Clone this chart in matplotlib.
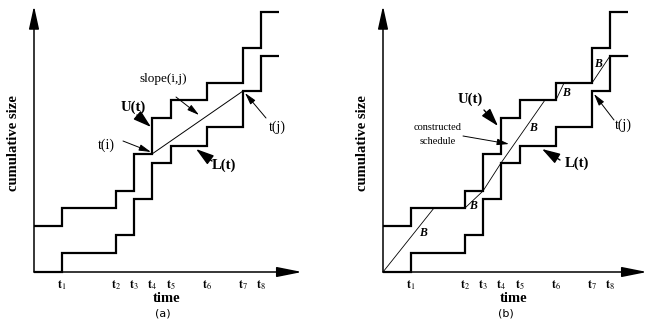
import matplotlib
matplotlib.use("Agg")
import matplotlib.pyplot as plt

plt.rcParams['font.family'] = ['Liberation Serif', 'DejaVu Serif']
plt.rcParams['mathtext.fontset'] = 'stix'

# ---- data (pixel-like units measured from the axis origin) ----
tick_names = ['1', '2', '3', '4', '5', '6', '7', '8']
t_pos = [28, 82, 100, 118, 137, 173, 209, 227]
t_end = 245
upper_levels = [46, 64, 81, 118, 154, 172, 189, 224, 260]
lower_levels = [0, 19, 37, 73, 109, 126, 145, 181, 216]
# panel (a) slope line: from t(i) to t(j)
slope_x = [118, 209]
slope_y = [118, 181]
# panel (b) constructed schedule
sched_x = [0, 51, 82, 100, 118, 162, 173, 181, 209, 227, 245]
sched_y = [0, 64, 64, 81, 109, 172, 172, 189, 189, 216, 216]

W, H = 647, 325
fig = plt.figure(figsize=(W / 100, H / 100), dpi=100)


def make_axes(px_left, px_right, ox, oy):
    ax = fig.add_axes([px_left / W, 0, (px_right - px_left) / W, 1])
    ax.set_xlim(px_left - ox, px_right - ox)
    ax.set_ylim(oy - H, oy)
    ax.axis('off')
    return ax


def P(ax_origin, px, py):
    ox, oy = ax_origin
    return (px - ox, oy - py)


def draw_common(ax, org, xarrow_end, label_x):
    edges = [0] + t_pos + [t_end]
    ax.stairs(upper_levels, edges, baseline=None, color='k', lw=1.6)
    ax.stairs(lower_levels, edges, baseline=None, color='k', lw=1.6)
    # axes arrows
    ax.annotate('', xy=(0, 266), xytext=(0, 0),
                arrowprops=dict(arrowstyle='-|>,head_length=1.0,head_width=0.22',
                                color='k', lw=1.1, mutation_scale=14,
                                shrinkA=0, shrinkB=0))
    ax.annotate('', xy=(xarrow_end, 0), xytext=(0, 0),
                arrowprops=dict(arrowstyle='-|>,head_length=1.1,head_width=0.22',
                                color='k', lw=1.1, mutation_scale=14,
                                shrinkA=0, shrinkB=0))
    for name, x in zip(tick_names, t_pos):
        ax.text(x, -13, r'$\mathbf{t}_{%s}$' % name, ha='center', va='center',
                fontsize=8.5)
    ax.text(label_x, -27, 'time', ha='center', va='center', fontsize=10.5,
            fontweight='bold')
    ax.text(-20, 129, 'cumulative size', ha='center', va='center',
            rotation=90, fontsize=10.5, fontweight='bold')


def thick_arrow(ax, xy, xytext):
    ax.annotate('', xy=xy, xytext=xytext,
                arrowprops=dict(arrowstyle='-|>,head_length=0.85,head_width=0.26',
                                color='k', lw=1.0, mutation_scale=13,
                                shrinkA=0, shrinkB=0))


def thin_arrow(ax, xy, xytext):
    ax.annotate('', xy=xy, xytext=xytext,
                arrowprops=dict(arrowstyle='-|>,head_length=0.6,head_width=0.16',
                                color='k', lw=0.7, mutation_scale=12,
                                shrinkA=0, shrinkB=0))


# ---------------- panel (a) ----------------
oa = (34, 272)
axa = make_axes(0, 323, *oa)
draw_common(axa, oa, 268, 167 - 34)
axa.plot(slope_x, slope_y, color='k', lw=0.7)
axa.text(*P(oa, 163, 79), 'slope(i,j)', ha='center', va='center', fontsize=9.5)
thin_arrow(axa, P(oa, 199, 115), P(oa, 176, 97))
axa.text(*P(oa, 133, 107), 'U(t)', ha='center', va='center', fontsize=10.5,
         fontweight='bold')
thick_arrow(axa, P(oa, 151, 127), P(oa, 137, 115))
axa.text(*P(oa, 106, 145), 't(i)', ha='center', va='center', fontsize=10)
thin_arrow(axa, P(oa, 151, 152), P(oa, 123, 141))
axa.text(*P(oa, 277, 127), 't(j)', ha='center', va='center', fontsize=10)
thin_arrow(axa, P(oa, 245, 93), P(oa, 266, 118))
axa.text(*P(oa, 224, 165), 'L(t)', ha='center', va='center', fontsize=10.5,
         fontweight='bold')
thick_arrow(axa, P(oa, 196, 149), P(oa, 212, 161))
fig.text(163 / W, 1 - 313 / H, '(a)', ha='center', va='center', fontsize=8,
         family='DejaVu Sans')

# ---------------- panel (b) ----------------
ob = (383, 272)
axb = make_axes(323, 647, *ob)
draw_common(axb, ob, 264, 514 - 383)
axb.plot(sched_x, sched_y, color='k', lw=0.6)
axb.text(*P(ob, 470, 99), 'U(t)', ha='center', va='center', fontsize=10.5,
         fontweight='bold')
thick_arrow(axb, P(ob, 498, 126), P(ob, 484, 110))
axb.text(*P(ob, 438, 127), 'constructed', ha='center', va='center', fontsize=7.5)
axb.text(*P(ob, 438, 142), 'schedule', ha='center', va='center', fontsize=7.5)
thin_arrow(axb, P(ob, 509, 144), P(ob, 463, 136))
axb.text(*P(ob, 577, 163), 'L(t)', ha='center', va='center', fontsize=10.5,
         fontweight='bold')
thick_arrow(axb, P(ob, 542, 149), P(ob, 560, 160))
axb.text(*P(ob, 623, 125), 't(j)', ha='center', va='center', fontsize=10)
thin_arrow(axb, P(ob, 594, 94), P(ob, 614, 120))
for bx, by in [(423, 233), (473, 206), (533, 128), (566, 93), (598, 64)]:
    axb.text(*P(ob, bx, by), 'B', ha='center', va='center', fontsize=8.5,
             fontweight='bold', fontstyle='italic')
fig.text(506 / W, 1 - 313 / H, '(b)', ha='center', va='center', fontsize=8,
         family='DejaVu Sans')

fig.savefig('out.png', dpi=100)
